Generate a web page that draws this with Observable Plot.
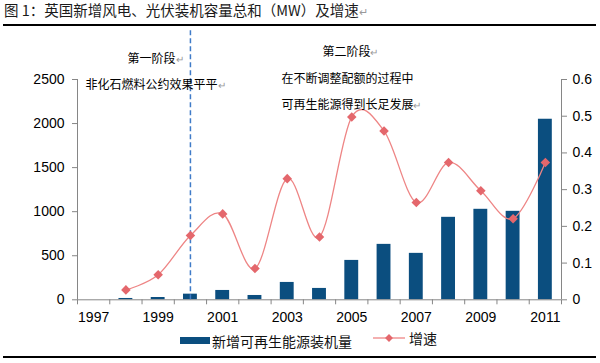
<!DOCTYPE html>
<html>
<head>
<meta charset="utf-8">
<script src="https://cdn.jsdelivr.net/npm/d3@7"></script>
<script src="https://cdn.jsdelivr.net/npm/@observablehq/plot@0.6"></script>
<style>
  html, body { margin: 0; padding: 0; background: #fff; }
  #wrap { position: relative; width: 600px; height: 363px; overflow: hidden; font-family: "Liberation Sans", Arial, sans-serif; }
  #title { position: absolute; left: 4px; top: 1px; font-family: "Noto Sans CJK SC", sans-serif; font-size: 14.5px; color: #1a1a1a; white-space: nowrap; line-height: 18px; }
  .rule { position: absolute; left: 3px; width: 593px; height: 2px; background: #000; }
  #chart { position: absolute; left: 0; top: 0; }
  #legend { position: absolute; top: 328px; left: 180px; height: 18px; font-family: "Noto Sans CJK SC", sans-serif; font-size: 14px; color: #111; white-space: nowrap; }
  .ret { color: #999; font-size: 11px; }
</style>
</head>
<body>
<div id="wrap">
  <div id="title">图 1：英国新增风电、光伏装机容量总和（MW）及增速<span class="ret">↵</span></div>
  <div class="rule" style="top:24px"></div>
  <div id="chart"></div>
  <div id="legend"></div>
  <div class="rule" style="top:356px"></div>
</div>
<script>
// ---- data ----
const years = [1997, 1998, 1999, 2000, 2001, 2002, 2003, 2004, 2005, 2006, 2007, 2008, 2009, 2010, 2011];
const capacity = [0, 15, 26, 64, 106, 49, 197, 129, 447, 629, 527, 936, 1027, 1004, 2049];
const growth = [null, 0.027, 0.068, 0.175, 0.234, 0.085, 0.33, 0.171, 0.498, 0.46, 0.265, 0.374, 0.297, 0.221, 0.374];
const capTicks = [0, 500, 1000, 1500, 2000, 2500];
const rateTicks = [0, 0.1, 0.2, 0.3, 0.4, 0.5, 0.6];
const labelYears = [1997, 1999, 2001, 2003, 2005, 2007, 2009, 2011];
const seriesNames = ["新增可再生能源装机量", "增速"];
const phaseYear = 2000;
const notes = [
  {text: "第一阶段↵", x: 1998.05, y: 2731},
  {text: "非化石燃料公约效果平平↵", x: 1996.75, y: 2435},
  {text: "第二阶段↵", x: 2004.09, y: 2810},
  {text: "在不断调整配额的过程中", x: 2002.82, y: 2503},
  {text: "可再生能源得到长足发展↵", x: 2002.82, y: 2207}
];

const capMax = capTicks[capTicks.length - 1];
const rateMax = rateTicks[rateTicks.length - 1];
const k = capMax / rateMax;
const barData = years.map((y, i) => ({year: y, value: capacity[i]}));
const rateData = years.map((y, i) => ({year: y, rate: growth[i]})).filter(d => d.rate != null);
const xLo = years[0] - 0.5, xHi = years[years.length - 1] + 0.5;
const boundaries = d3.range(xLo, xHi + 0.01, 1);

const barColor = "#0B4E7F";
const lineColor = "#EE8585";
const dotColor = "#E4676C";
const axisColor = "#868686";

const plot = Plot.plot({
  width: 600,
  height: 330,
  marginLeft: 77,
  marginRight: 39,
  marginTop: 79,
  marginBottom: 30.7,
  style: {fontFamily: "'Liberation Sans', Arial, sans-serif", fontSize: "14px", color: "#000", background: "transparent"},
  x: {type: "linear", domain: [xLo, xHi], axis: null},
  y: {domain: [0, capMax], axis: null},
  marks: [
    Plot.rectY(barData, {x1: d => d.year - 0.215, x2: d => d.year + 0.215, y: "value", fill: barColor}),
    Plot.ruleX([phaseYear], {y1: 0, y2: 3060, stroke: "#3F7BC8", strokeWidth: 1.5, strokeDasharray: "5,3"}),
    Plot.line(rateData, {x: "year", y: d => d.rate * k, curve: "cardinal", stroke: lineColor, strokeWidth: 1.3}),
    Plot.dot(rateData, {x: "year", y: d => d.rate * k, symbol: "diamond2", r: 4.3, fill: dotColor, stroke: "none"}),
    // axis lines
    Plot.ruleX([xLo], {y1: 0, y2: capMax, stroke: axisColor}),
    Plot.ruleX([xHi], {y1: 0, y2: capMax, stroke: axisColor}),
    Plot.ruleY([0], {stroke: axisColor}),
    // left axis
    Plot.axisY(capTicks, {anchor: "left", tickSize: 5, tickPadding: 8, stroke: axisColor, fill: "#000", fontSize: 14, tickFormat: d => String(d)}),
    // right axis
    Plot.axisY(rateTicks.map(v => v * k), {anchor: "right", tickSize: 5, tickPadding: 6, stroke: axisColor, fill: "#000", fontSize: 14, tickFormat: d => String(Math.round(d / k * 10) / 10)}),
    // x ticks at category boundaries
    Plot.axisX(boundaries, {anchor: "bottom", tickSize: 5, stroke: axisColor, tickFormat: () => ""}),
    // x labels
    Plot.axisX(labelYears, {anchor: "bottom", tickSize: 0, tickPadding: 12, fill: "#000", fontSize: 14, tickFormat: d => String(d)}),
    // annotations
    Plot.text(notes, {x: "x", y: "y", text: "text", textAnchor: "start", lineAnchor: "middle", fontSize: 12, fill: "#000", fontFamily: "'Noto Sans CJK SC', sans-serif"})
  ]
});

// grey paragraph marks
d3.select(plot).selectAll("text").each(function() {
  const t = this.textContent;
  if (t.endsWith("↵") && this.childElementCount === 0) {
    this.textContent = t.slice(0, -1);
    d3.select(this).append("tspan").attr("fill", "#999").attr("font-size", 10).text("↵");
  }
});

document.getElementById("chart").appendChild(plot);

// legend
const legend = d3.select("#legend");
const l1 = legend.append("span").style("display", "inline-flex").style("align-items", "center");
l1.append("span").style("display", "inline-block").style("width", "30px").style("height", "7px").style("background", barColor).style("margin-right", "2px");
l1.append("span").text(seriesNames[0]);
const l2 = legend.append("span").style("display", "inline-flex").style("align-items", "center").style("margin-left", "21px");
const sw = l2.append("svg").attr("width", 32).attr("height", 12).style("margin-right", "4px");
sw.append("line").attr("x1", 0).attr("x2", 32).attr("y1", 6).attr("y2", 6).attr("stroke", lineColor).attr("stroke-width", 1.3);
sw.append("path").attr("d", d3.symbol(d3.symbolDiamond2, 40)()).attr("transform", "translate(16,6)").attr("fill", dotColor);
l2.append("span").text(seriesNames[1]);
</script>
</body>
</html>
